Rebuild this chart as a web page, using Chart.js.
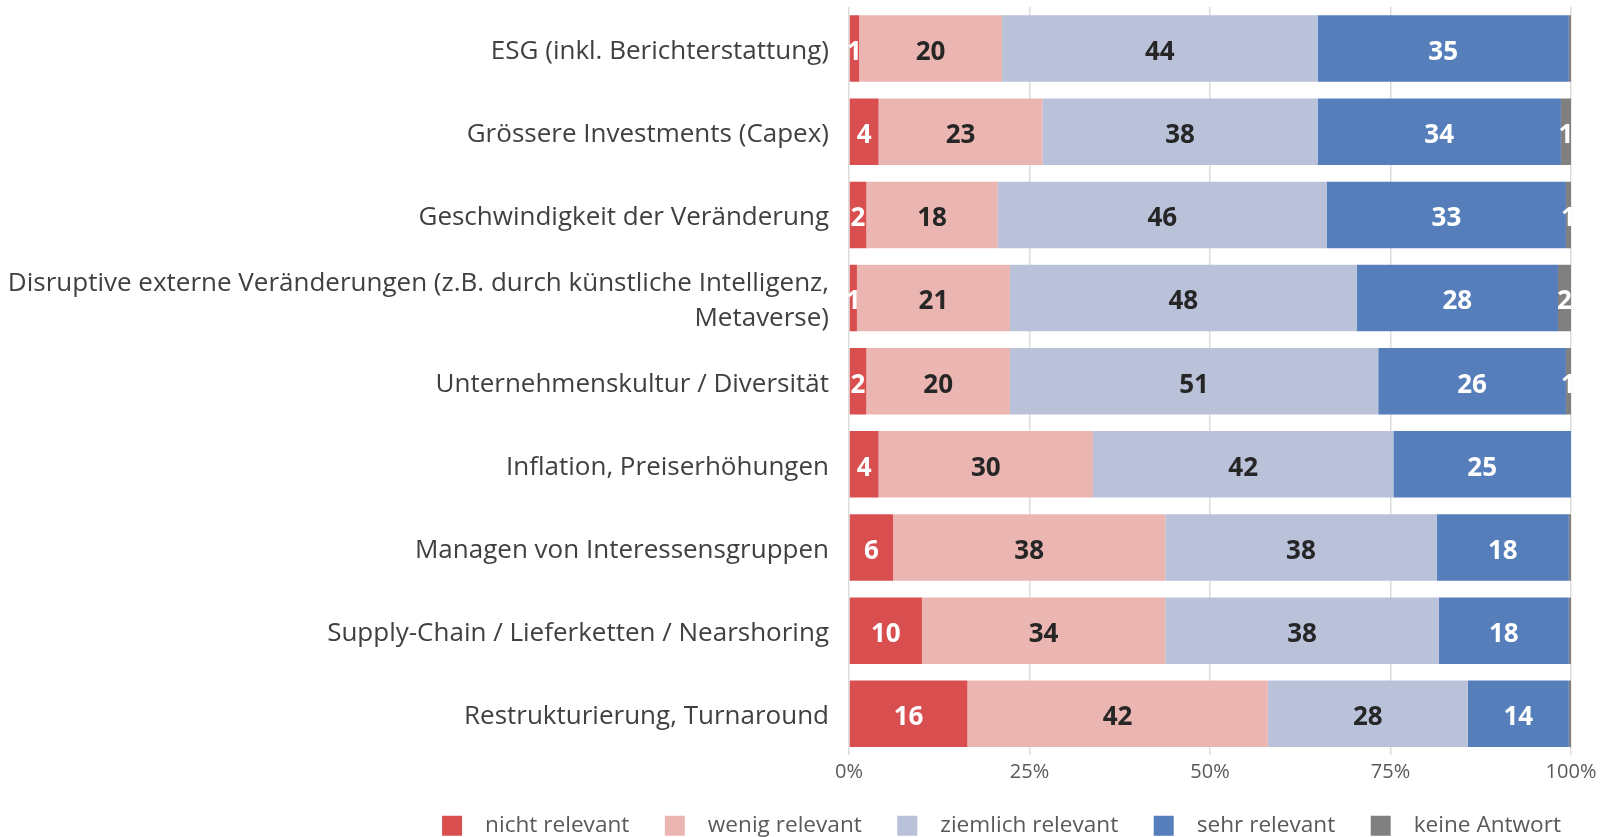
<!DOCTYPE html>
<html>
<head>
<meta charset="utf-8">
<script src="https://cdn.jsdelivr.net/npm/chart.js@4"></script>
<style>
  html, body { margin: 0; padding: 0; background: #fff; }
  #wrap { width: 1609px; height: 837px; }
</style>
</head>
<body>
<div id="wrap"><canvas id="chart" width="1609" height="837"></canvas></div>
<script>
// Categories (top to bottom)
const categories = [
    'ESG (inkl. Berichterstattung)',
    'Grössere Investments (Capex)',
    'Geschwindigkeit der Veränderung',
    ['Disruptive externe Veränderungen (z.B. durch künstliche Intelligenz,', 'Metaverse)'],
    'Unternehmenskultur / Diversität',
    'Inflation, Preiserhöhungen',
    'Managen von Interessensgruppen',
    'Supply-Chain / Lieferketten / Nearshoring',
    'Restrukturierung, Turnaround'
];

// Shares in percent, one array per answer
const nichtRelevant    = [1.4, 4.1, 2.4, 1.1, 2.4, 4.1, 6.1, 10.1, 16.4];
const wenigRelevant    = [19.8, 22.7, 18.2, 21.2, 19.9, 29.7, 37.7, 33.7, 41.6];
const ziemlichRelevant = [43.7, 38.1, 45.6, 48.0, 51.0, 41.6, 37.6, 37.9, 27.7];
const sehrRelevant     = [34.8, 33.7, 33.1, 27.9, 26.0, 24.6, 18.3, 18.0, 14.0];
const keineAntwort     = [0.3, 1.4, 0.7, 1.8, 0.7, 0, 0.3, 0.3, 0.3];

const xTicks = [0, 25, 50, 75, 100];

const series = [
    { label: 'nicht relevant', data: nichtRelevant, color: '#d94f50', text: '#ffffff' },
    { label: 'wenig relevant', data: wenigRelevant, color: '#ebb6b2', text: '#262626' },
    { label: 'ziemlich relevant', data: ziemlichRelevant, color: '#bac2da', text: '#262626' },
    { label: 'sehr relevant', data: sehrRelevant, color: '#557eba', text: '#ffffff' },
    { label: 'keine Antwort', data: keineAntwort, color: '#808080', text: '#ffffff' }
];

// Draw the rounded value in the middle of each segment
const segmentLabels = {
    id: 'segmentLabels',
    afterDatasetsDraw(chart) {
        const ctx = chart.ctx;
        ctx.save();
        ctx.font = 'bold 26px "Open Sans"';
        ctx.textAlign = 'center';
        ctx.textBaseline = 'middle';
        chart.data.datasets.forEach((ds, i) => {
            const meta = chart.getDatasetMeta(i);
            meta.data.forEach((bar, j) => {
                const v = Math.round(ds.data[j]);
                if (v < 1) return;
                ctx.fillStyle = series[i].text;
                ctx.fillText(String(v), (bar.x + bar.base) / 2, bar.y + 4);
            });
        });
        ctx.restore();
    }
};

// Nudge the legend to where it sits in the original
const legendShift = {
    id: 'legendShift',
    afterLayout(chart) {
        const l = chart.legend;
        l.left += 2; l.right += 2;
        l.top += 13; l.bottom += 13;
    }
};

const ctx = document.getElementById('chart').getContext('2d');
new Chart(ctx, {
    type: 'bar',
    data: {
        labels: categories,
        datasets: series.map(s => ({
            label: s.label,
            data: s.data,
            backgroundColor: s.color,
            borderWidth: 0,
            categoryPercentage: 1,
            barPercentage: 0.8
        }))
    },
    options: {
        indexAxis: 'y',
        responsive: false,
        animation: false,
        layout: { padding: { top: 7, right: 38, left: 10, bottom: 3 } },
        scales: {
            x: {
                stacked: true,
                min: 0,
                max: 100,
                afterBuildTicks: axis => { axis.ticks = xTicks.map(v => ({ value: v })); },
                grid: { color: '#dcdcdc', lineWidth: 1.5, drawTicks: false },
                border: { display: false },
                ticks: {
                    color: '#595959',
                    font: { family: 'Open Sans', size: 20 },
                    padding: 5,
                    callback: v => v + '%'
                }
            },
            y: {
                stacked: true,
                afterFit: scale => {
                    scale.width = 839;
                    scale.paddingTop = 0;
                    scale.paddingBottom = 0;
                },
                grid: { display: false },
                border: { display: false },
                ticks: {
                    color: '#404040',
                    font: { family: 'Open Sans', size: 26, lineHeight: 1.38 },
                    padding: 12,
                    labelOffset: 3
                }
            }
        },
        plugins: {
            legend: {
                position: 'bottom',
                align: 'end',
                labels: {
                    color: '#595959',
                    font: { family: 'Open Sans', size: 22.6 },
                    boxWidth: 20,
                    boxHeight: 20,
                    padding: 12,
                    generateLabels: chart => {
                        const items = Chart.defaults.plugins.legend.labels.generateLabels(chart);
                        return items.map((item, i) => Object.assign(item, {
                            text: '  ' + item.text + (i < items.length - 1 ? '    ' : ''),
                            lineWidth: 0
                        }));
                    }
                }
            },
            tooltip: { enabled: false }
        }
    },
    plugins: [segmentLabels, legendShift]
});
</script>
</body>
</html>
